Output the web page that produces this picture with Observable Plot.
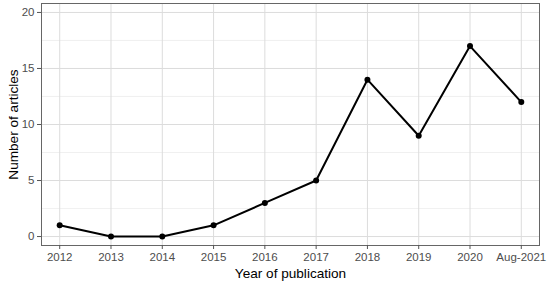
<!DOCTYPE html>
<html>
<head>
<meta charset="utf-8">
<script src="https://cdn.jsdelivr.net/npm/d3@7"></script>
<script src="https://cdn.jsdelivr.net/npm/@observablehq/plot@0.6"></script>
<style>
  html, body { margin: 0; padding: 0; background: #fff; }
  svg { display: block; }
</style>
</head>
<body>
<div id="chart"></div>
<script>
const years = ["2012","2013","2014","2015","2016","2017","2018","2019","2020","Aug-2021"];
const articles = [1, 0, 0, 1, 3, 5, 14, 9, 17, 12];
const yTicks = [0, 5, 10, 15, 20];
const yMinor = [2.5, 7.5, 12.5, 17.5];

const data = years.map((y, i) => ({year: y, n: articles[i]}));

const chart = Plot.plot({
  width: 550,
  height: 285,
  marginLeft: 41,
  marginRight: 11,
  marginTop: 3,
  marginBottom: 40,
  style: {fontFamily: "'Liberation Sans', Arial, sans-serif", background: "#fff"},
  x: {type: "point", domain: years, padding: 0.355, round: false},
  y: {domain: [-0.8, 20.8]},
  marks: [
    Plot.ruleY(yMinor, {stroke: "#ececec", strokeWidth: 0.8}),
    Plot.ruleY(yTicks, {stroke: "#dcdcdc", strokeWidth: 1}),
    Plot.ruleX(years, {stroke: "#dcdcdc", strokeWidth: 1}),
    Plot.frame({stroke: "#666", strokeWidth: 1}),
    Plot.axisX({ticks: years, tickSize: 4, tickPadding: 3, fontSize: 11.5, color: "#4d4d4d", stroke: "#555", label: null}),
    Plot.axisY({ticks: yTicks, tickSize: 4, tickPadding: 3, fontSize: 11.5, color: "#4d4d4d", stroke: "#555", label: null}),
    Plot.line(data, {x: "year", y: "n", stroke: "#000", strokeWidth: 2}),
    Plot.dot(data, {x: "year", y: "n", r: 3, fill: "#000", stroke: "none"}),
    Plot.text(["Year of publication"], {frameAnchor: "bottom", dy: 28, lineAnchor: "middle", fontSize: 13.6, fill: "#000"}),
    Plot.text(["Number of articles"], {frameAnchor: "left", dx: -28, rotate: -90, lineAnchor: "middle", textAnchor: "middle", fontSize: 13.6, fill: "#000"})
  ]
});
document.getElementById("chart").appendChild(chart);
</script>
</body>
</html>
